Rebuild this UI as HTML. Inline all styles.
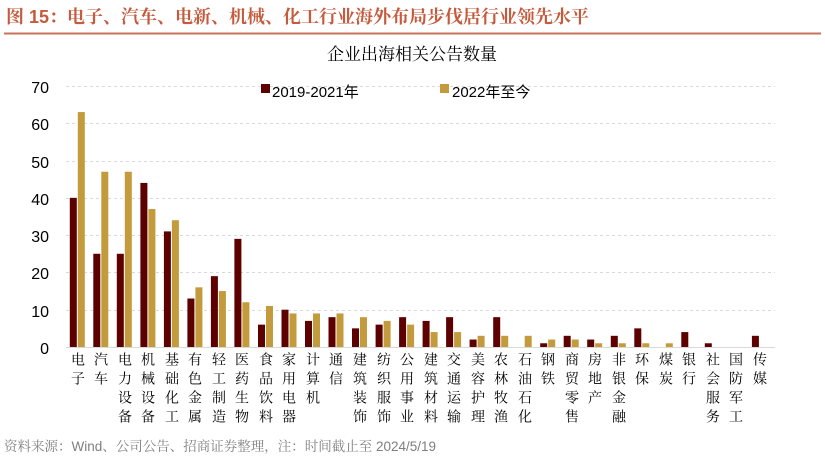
<!DOCTYPE html>
<html><head><meta charset="utf-8"><style>
body{margin:0;background:#fff;width:825px;height:469px;overflow:hidden}
svg text{font-family:"Liberation Sans","Noto Sans CJK SC",sans-serif}
.s{font-family:"Noto Serif CJK SC",serif}
.v{writing-mode:vertical-rl;font-family:"Noto Serif CJK SC",serif;font-size:14px;letter-spacing:5px;fill:#000}
</style></head><body>
<svg width="825" height="469" xmlns="http://www.w3.org/2000/svg">
<text x="6" y="23" font-size="18" font-weight="bold" fill="#c55a3c" style="font-family:'Liberation Sans','Noto Serif CJK SC',serif">图 15：电子、汽车、电新、机械、化工行业海外布局步伐居行业领先水平</text>
<line x1="4" y1="33.5" x2="821" y2="33.5" stroke="#c8735a" stroke-width="2"/>
<text x="412" y="60" class="s" font-size="17" text-anchor="middle">企业出海相关公告数量</text>
<g stroke="#d9d9d9" stroke-width="1" stroke-dasharray="3,3">
<line x1="66" x2="775" y1="86.5" y2="86.5"/><line x1="66" x2="775" y1="123.5" y2="123.5"/><line x1="66" x2="775" y1="161.5" y2="161.5"/><line x1="66" x2="775" y1="198.5" y2="198.5"/><line x1="66" x2="775" y1="235.5" y2="235.5"/><line x1="66" x2="775" y1="272.5" y2="272.5"/><line x1="66" x2="775" y1="310.5" y2="310.5"/>
</g>
<line x1="66" x2="775" y1="347.5" y2="347.5" stroke="#d9d9d9"/>
<g font-size="16" text-anchor="end">
<text x="49" y="93">70</text><text x="49" y="130">60</text><text x="49" y="168">50</text><text x="49" y="205">40</text><text x="49" y="242">30</text><text x="49" y="279">20</text><text x="49" y="317">10</text><text x="49" y="354">0</text>
</g>
<rect x="261" y="84" width="9" height="9" fill="#5c0000"/>
<text x="272" y="97" font-size="15">2019-2021年</text>
<rect x="440" y="84" width="9" height="9" fill="#c39b3c"/>
<text x="452" y="97" font-size="15">2022年至今</text>
<g id="bars">
<g transform="translate(77.8,347) scale(1,-3.729)"><rect x="-8" width="7" height="40" fill="#5c0000"/><rect x="0" width="7" height="63" fill="#c39b3c"/></g>
<g transform="translate(101.3,347) scale(1,-3.729)"><rect x="-8" width="7" height="25" fill="#5c0000"/><rect x="0" width="7" height="47" fill="#c39b3c"/></g>
<g transform="translate(124.8,347) scale(1,-3.729)"><rect x="-8" width="7" height="25" fill="#5c0000"/><rect x="0" width="7" height="47" fill="#c39b3c"/></g>
<g transform="translate(148.4,347) scale(1,-3.729)"><rect x="-8" width="7" height="44" fill="#5c0000"/><rect x="0" width="7" height="37" fill="#c39b3c"/></g>
<g transform="translate(171.9,347) scale(1,-3.729)"><rect x="-8" width="7" height="31" fill="#5c0000"/><rect x="0" width="7" height="34" fill="#c39b3c"/></g>
<g transform="translate(195.4,347) scale(1,-3.729)"><rect x="-8" width="7" height="13" fill="#5c0000"/><rect x="0" width="7" height="16" fill="#c39b3c"/></g>
<g transform="translate(218.9,347) scale(1,-3.729)"><rect x="-8" width="7" height="19" fill="#5c0000"/><rect x="0" width="7" height="15" fill="#c39b3c"/></g>
<g transform="translate(242.4,347) scale(1,-3.729)"><rect x="-8" width="7" height="29" fill="#5c0000"/><rect x="0" width="7" height="12" fill="#c39b3c"/></g>
<g transform="translate(266.0,347) scale(1,-3.729)"><rect x="-8" width="7" height="6" fill="#5c0000"/><rect x="0" width="7" height="11" fill="#c39b3c"/></g>
<g transform="translate(289.5,347) scale(1,-3.729)"><rect x="-8" width="7" height="10" fill="#5c0000"/><rect x="0" width="7" height="9" fill="#c39b3c"/></g>
<g transform="translate(313.0,347) scale(1,-3.729)"><rect x="-8" width="7" height="7" fill="#5c0000"/><rect x="0" width="7" height="9" fill="#c39b3c"/></g>
<g transform="translate(336.5,347) scale(1,-3.729)"><rect x="-8" width="7" height="8" fill="#5c0000"/><rect x="0" width="7" height="9" fill="#c39b3c"/></g>
<g transform="translate(360.0,347) scale(1,-3.729)"><rect x="-8" width="7" height="5" fill="#5c0000"/><rect x="0" width="7" height="8" fill="#c39b3c"/></g>
<g transform="translate(383.6,347) scale(1,-3.729)"><rect x="-8" width="7" height="6" fill="#5c0000"/><rect x="0" width="7" height="7" fill="#c39b3c"/></g>
<g transform="translate(407.1,347) scale(1,-3.729)"><rect x="-8" width="7" height="8" fill="#5c0000"/><rect x="0" width="7" height="6" fill="#c39b3c"/></g>
<g transform="translate(430.6,347) scale(1,-3.729)"><rect x="-8" width="7" height="7" fill="#5c0000"/><rect x="0" width="7" height="4" fill="#c39b3c"/></g>
<g transform="translate(454.1,347) scale(1,-3.729)"><rect x="-8" width="7" height="8" fill="#5c0000"/><rect x="0" width="7" height="4" fill="#c39b3c"/></g>
<g transform="translate(477.6,347) scale(1,-3.729)"><rect x="-8" width="7" height="2" fill="#5c0000"/><rect x="0" width="7" height="3" fill="#c39b3c"/></g>
<g transform="translate(501.2,347) scale(1,-3.729)"><rect x="-8" width="7" height="8" fill="#5c0000"/><rect x="0" width="7" height="3" fill="#c39b3c"/></g>
<g transform="translate(524.7,347) scale(1,-3.729)"><rect x="0" width="7" height="3" fill="#c39b3c"/></g>
<g transform="translate(548.2,347) scale(1,-3.729)"><rect x="-8" width="7" height="1" fill="#5c0000"/><rect x="0" width="7" height="2" fill="#c39b3c"/></g>
<g transform="translate(571.7,347) scale(1,-3.729)"><rect x="-8" width="7" height="3" fill="#5c0000"/><rect x="0" width="7" height="2" fill="#c39b3c"/></g>
<g transform="translate(595.2,347) scale(1,-3.729)"><rect x="-8" width="7" height="2" fill="#5c0000"/><rect x="0" width="7" height="1" fill="#c39b3c"/></g>
<g transform="translate(618.8,347) scale(1,-3.729)"><rect x="-8" width="7" height="3" fill="#5c0000"/><rect x="0" width="7" height="1" fill="#c39b3c"/></g>
<g transform="translate(642.3,347) scale(1,-3.729)"><rect x="-8" width="7" height="5" fill="#5c0000"/><rect x="0" width="7" height="1" fill="#c39b3c"/></g>
<g transform="translate(665.8,347) scale(1,-3.729)"><rect x="0" width="7" height="1" fill="#c39b3c"/></g>
<g transform="translate(689.3,347) scale(1,-3.729)"><rect x="-8" width="7" height="4" fill="#5c0000"/></g>
<g transform="translate(712.8,347) scale(1,-3.729)"><rect x="-8" width="7" height="1" fill="#5c0000"/></g>
<g transform="translate(759.9,347) scale(1,-3.729)"><rect x="-8" width="7" height="3" fill="#5c0000"/></g>
</g>
<g>
<text class="v" x="78" y="352">电子</text>
<text class="v" x="101" y="352">汽车</text>
<text class="v" x="125" y="352">电力设备</text>
<text class="v" x="148" y="352">机械设备</text>
<text class="v" x="172" y="352">基础化工</text>
<text class="v" x="195" y="352">有色金属</text>
<text class="v" x="219" y="352">轻工制造</text>
<text class="v" x="242" y="352">医药生物</text>
<text class="v" x="266" y="352">食品饮料</text>
<text class="v" x="289" y="352">家用电器</text>
<text class="v" x="313" y="352">计算机</text>
<text class="v" x="336" y="352">通信</text>
<text class="v" x="360" y="352">建筑装饰</text>
<text class="v" x="384" y="352">纺织服饰</text>
<text class="v" x="407" y="352">公用事业</text>
<text class="v" x="431" y="352">建筑材料</text>
<text class="v" x="454" y="352">交通运输</text>
<text class="v" x="478" y="352">美容护理</text>
<text class="v" x="501" y="352">农林牧渔</text>
<text class="v" x="525" y="352">石油石化</text>
<text class="v" x="548" y="352">钢铁</text>
<text class="v" x="572" y="352">商贸零售</text>
<text class="v" x="595" y="352">房地产</text>
<text class="v" x="619" y="352">非银金融</text>
<text class="v" x="642" y="352">环保</text>
<text class="v" x="666" y="352">煤炭</text>
<text class="v" x="689" y="352">银行</text>
<text class="v" x="713" y="352">社会服务</text>
<text class="v" x="736" y="352">国防军工</text>
<text class="v" x="760" y="352">传媒</text>
</g>
<text x="4" y="451" font-size="13.5" fill="#7f7f7f" style="font-family:'Liberation Sans','Noto Serif CJK SC',serif">资料来源：Wind、公司公告、招商证券整理，注：时间截止至 2024/5/19</text>
</svg>
</body></html>
